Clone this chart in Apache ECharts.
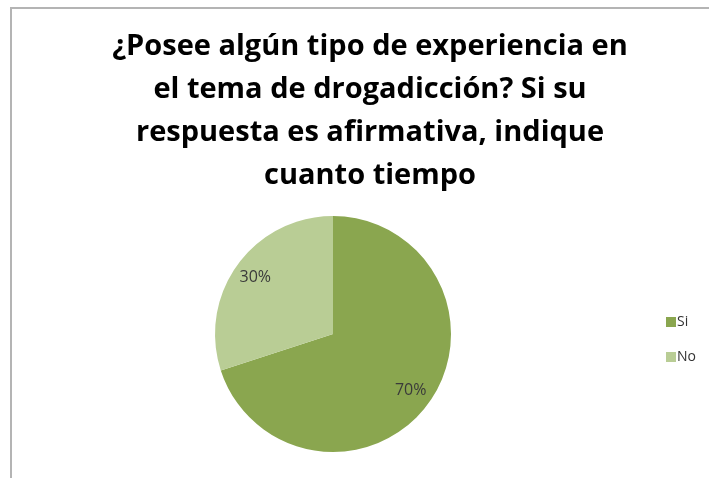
<!DOCTYPE html>
<html>
<head>
<meta charset="utf-8">
<script src="https://cdn.jsdelivr.net/npm/echarts@6/dist/echarts.min.js"></script>
<style>
  html, body { margin: 0; padding: 0; background: #fff; }
  #frame { position: absolute; left: 10px; top: 7px; width: 720px; height: 480px;
           border-left: 2px solid #b4b4b4; border-top: 2px solid #b4b4b4; }
  #chart { position: absolute; left: 0; top: 0; width: 709px; height: 478px; }
</style>
</head>
<body>
<div id="frame"></div>
<div id="chart"></div>
<script>
var titleText = '¿Posee algún tipo de experiencia en\nel tema de drogadicción? Si su\nrespuesta es afirmativa, indique\ncuanto tiempo';
var categories = ['Si', 'No'];
var values = [70, 30];
var colors = ['#8aa64f', '#b9cd95'];

var myChart = echarts.init(document.getElementById('chart'));

var pieData = categories.map(function (name, i) {
  return { name: name, value: values[i], itemStyle: { color: colors[i] } };
});

var option = {
  animation: false,
  title: {
    text: titleText,
    left: 365,
    top: 20,
    textAlign: 'center',
    textStyle: {
      fontFamily: 'Open Sans',
      fontWeight: 'bold',
      fontSize: 29,
      lineHeight: 43,
      color: '#000'
    }
  },
  legend: {
    orient: 'vertical',
    left: 661,
    top: 310,
    itemWidth: 10,
    itemHeight: 10,
    itemGap: 21,
    icon: 'rect',
    data: categories,
    textStyle: { fontFamily: 'Open Sans', fontSize: 14, color: '#333', padding: [0, 0, 0, -4] }
  },
  series: [
    {
      name: 'respuesta',
      type: 'pie',
      center: [333, 334],
      radius: [0, 118],
      startAngle: 90,
      clockwise: true,
      label: { show: false },
      labelLine: { show: false },
      data: pieData
    },
    {
      // capa transparente solo para colocar las etiquetas mas afuera
      name: 'etiquetas',
      type: 'pie',
      center: [333, 334],
      radius: [68, 118],
      startAngle: 90,
      clockwise: true,
      silent: true,
      itemStyle: { color: 'transparent' },
      label: {
        show: true,
        position: 'inside',
        formatter: '{d}%',
        fontFamily: 'Open Sans',
        fontSize: 16,
        color: '#3a3a3a'
      },
      labelLine: { show: false },
      data: categories.map(function (name, i) {
        return { name: name, value: values[i], itemStyle: { color: 'transparent' } };
      })
    }
  ]
};

myChart.setOption(option);
</script>
</body>
</html>
